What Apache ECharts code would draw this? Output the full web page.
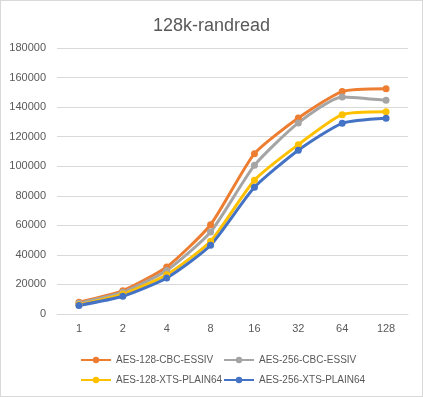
<!DOCTYPE html>
<html>
<head>
<meta charset="utf-8">
<script src="https://cdn.jsdelivr.net/npm/echarts@6/dist/echarts.min.js"></script>
<style>
  html, body { margin: 0; padding: 0; background: #fff; }
  #chart { width: 421px; height: 395px; border: 1px solid #d9d9d9; }
</style>
</head>
<body>
<div id="chart"></div>
<script>
const categories = ['1', '2', '4', '8', '16', '32', '64', '128']
const seriesNames = ['AES-128-CBC-ESSIV', 'AES-256-CBC-ESSIV', 'AES-128-XTS-PLAIN64', 'AES-256-XTS-PLAIN64']
const aes128Cbc = [7900, 15800, 31800, 60400, 108500, 132600, 150500, 152400]
const aes256Cbc = [7200, 14700, 29500, 55500, 100600, 129300, 146900, 144600]
const aes128Xts = [6300, 13500, 26600, 49200, 90500, 114600, 134900, 136900]
const aes256Xts = [5800, 12000, 24400, 46500, 85700, 110800, 129000, 132400]
const colors = ['#ed7d31', '#a5a5a5', '#ffc000', '#4472c4']

const chart = echarts.init(document.getElementById('chart'))
const textColor = '#595959'
const font = 'Liberation Sans, Arial, sans-serif'

function makeSeries(name, data, color) {
  return {
    name,
    type: 'line',
    data,
    smooth: 0.2,
    symbol: 'circle',
    symbolSize: 7,
    lineStyle: { color, width: 3 },
    itemStyle: { color },
  }
}

const legendBase = {
  orient: 'vertical',
  top: 349,
  itemWidth: 30,
  itemHeight: 8,
  itemGap: 10,
  textStyle: { color: textColor, fontSize: 10, fontFamily: font },
}

chart.setOption({
  animation: false,
  textStyle: { fontFamily: font, color: textColor },
  title: {
    text: '128k-randread',
    left: 'center',
    top: 11,
    textStyle: { fontFamily: font, fontSize: 18, fontWeight: 'normal', color: textColor },
  },
  grid: { left: 56, right: 14, top: 47, bottom: 82 },
  xAxis: {
    type: 'category',
    data: categories,
    axisLine: { lineStyle: { color: '#d9d9d9' } },
    axisTick: { show: false },
    axisLabel: { color: textColor, fontSize: 11, margin: 9 },
  },
  yAxis: {
    type: 'value',
    min: 0,
    max: 180000,
    interval: 20000,
    axisLine: { show: false },
    axisTick: { show: false },
    splitLine: { lineStyle: { color: '#d9d9d9' } },
    axisLabel: { color: textColor, fontSize: 11, margin: 11, formatter: (v) => String(v) },
  },
  legend: [
    { ...legendBase, left: 74, data: [seriesNames[0], seriesNames[2]] },
    { ...legendBase, left: 217, data: [seriesNames[1], seriesNames[3]] },
  ],
  series: [
    makeSeries(seriesNames[0], aes128Cbc, colors[0]),
    makeSeries(seriesNames[1], aes256Cbc, colors[1]),
    makeSeries(seriesNames[2], aes128Xts, colors[2]),
    makeSeries(seriesNames[3], aes256Xts, colors[3]),
  ],
})
</script>
</body>
</html>
